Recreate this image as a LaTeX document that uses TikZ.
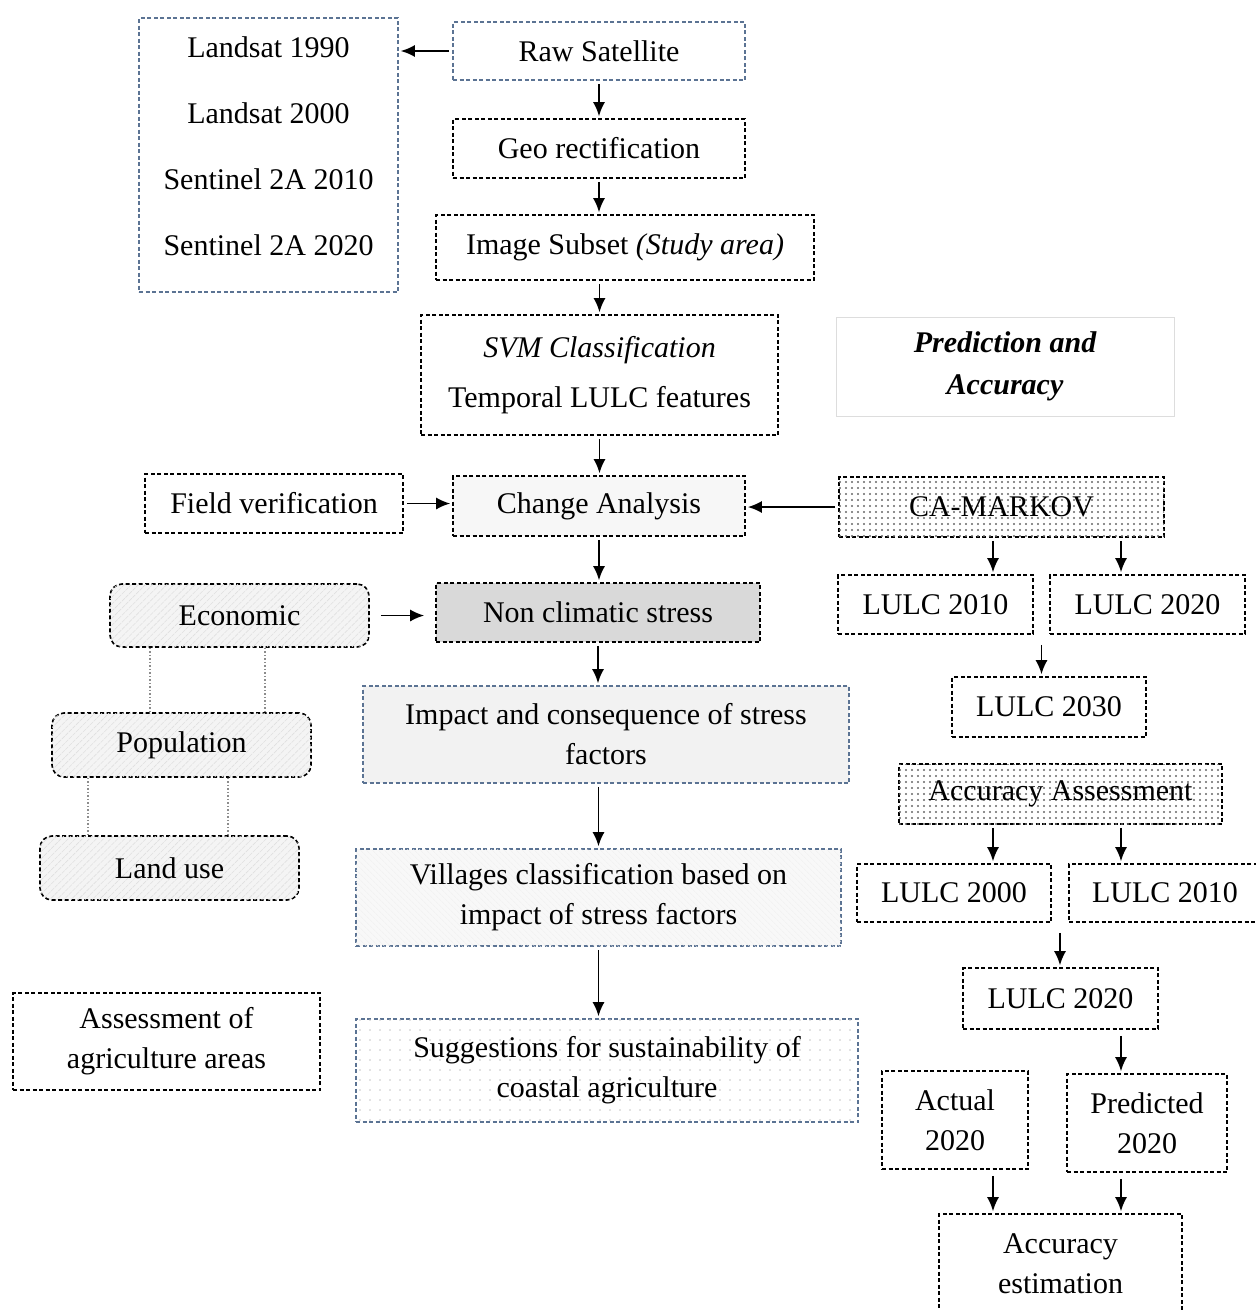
\documentclass[tikz,border=0pt]{standalone}
\usepackage{fontspec}
\setmainfont{Liberation Serif}
\usepackage{tikz}
\usetikzlibrary{calc,arrows.meta,patterns.meta}
\definecolor{lineBlue}{HTML}{5B7393}
\definecolor{stressGrey}{HTML}{D9D9D9}
\definecolor{impactGrey}{HTML}{F2F2F2}
\definecolor{changeGrey}{HTML}{F7F7F7}
\definecolor{hatchGrey}{HTML}{F4F4F4}
\definecolor{predLine}{HTML}{DDDDDD}
\tikzset{
  stepbox/.style={rectangle, draw=black, line width=1.6pt, dash pattern=on 4pt off 2.5pt, align=center, font=\fontsize{30}{40}\selectfont, inner sep=3pt},
  bluebox/.style={stepbox, draw=lineBlue},
  roundbox/.style={stepbox, rounded corners=12pt, fill=hatchGrey, postaction={pattern={Lines[angle=45,distance=5pt,line width=0.6pt]}, pattern color=black!12}},
  dotbox/.style={stepbox, postaction={pattern={Dots[distance=6pt,radius=1.1pt]}, pattern color=black!60}},
  predbox/.style={rectangle, draw=predLine, line width=1pt, align=center, font=\fontsize{30}{42}\selectfont\bfseries\itshape},
  arr/.style={-{Latex[length=14pt,width=12pt]}, line width=1.8pt, shorten <=3pt, shorten >=2pt},
  linkline/.style={draw=black!45, line width=1.5pt, dotted},
}
\begin{document}
\begin{tikzpicture}[x=1pt,y=-1pt]
  \useasboundingbox (0,0) rectangle (1256,1310);
  % --- main column ---
  \node[bluebox, minimum width=259, minimum height=274, font=\fontsize{30}{66}\selectfont, text depth=18pt] (sat) at (268.5,155) {Landsat 1990\\Landsat 2000\\Sentinel 2A 2010\\Sentinel 2A 2020};
  \node[bluebox, minimum width=292, minimum height=58] (raw) at (599,51) {Raw Satellite};
  \node[stepbox, minimum width=292, minimum height=59] (geo) at (599,148.5) {Geo rectification};
  \node[stepbox, minimum width=378, minimum height=65] (subset) at (625,247.5) {Image Subset \textit{(Study area)}};
  \node[stepbox, minimum width=357, minimum height=120, font=\fontsize{30}{50}\selectfont] (svm) at (599.5,375) {\textit{SVM Classification}\\Temporal LULC features};
  \node[stepbox, minimum width=258, minimum height=59] (field) at (274,503.5) {Field verification};
  \node[stepbox, fill=changeGrey, minimum width=292, minimum height=60] (change) at (599,506) {Change Analysis};
  \node[roundbox, minimum width=259, minimum height=63] (econ) at (239.5,615.5) {Economic};
  \node[stepbox, fill=stressGrey, minimum width=324, minimum height=59] (nonclim) at (598,612.5) {Non climatic stress};
  \node[roundbox, minimum width=259, minimum height=64] (pop) at (181.5,745) {Population};
  \node[roundbox, minimum width=259, minimum height=64] (landuse) at (169.5,868) {Land use};
  \node[bluebox, fill=impactGrey, minimum width=486, minimum height=97] (impact) at (606,734.5) {Impact and consequence of stress\\factors};
  \node[bluebox, fill=hatchGrey!60, postaction={pattern={Lines[angle=-45,distance=4pt,line width=0.5pt]}, pattern color=black!6}, minimum width=485, minimum height=97] (village) at (598.5,897.5) {Villages classification based on\\impact of stress factors};
  \node[stepbox, minimum width=307, minimum height=97] (assess) at (166.5,1041.5) {Assessment of\\agriculture areas};
  \node[bluebox, postaction={pattern={Dots[distance=10pt,radius=0.8pt]}, pattern color=black!22}, minimum width=502, minimum height=103] (suggest) at (607,1070.5) {Suggestions for sustainability of\\coastal agriculture};
  % --- prediction column ---
  \node[predbox, minimum width=338, minimum height=99] (pred) at (1005,366.5) {Prediction and\\Accuracy};
  \node[dotbox, minimum width=325, minimum height=60] (camarkov) at (1001.5,507) {CA-MARKOV};
  \node[stepbox, minimum width=195, minimum height=59] (lulcA) at (935.5,604.5) {LULC 2010};
  \node[stepbox, minimum width=195, minimum height=59] (lulcB) at (1147.5,604.5) {LULC 2020};
  \node[stepbox, minimum width=194, minimum height=60] (lulcC) at (1049,707) {LULC 2030};
  \node[dotbox, minimum width=323, minimum height=60] (acc) at (1060.5,794) {Accuracy Assessment};
  \node[stepbox, minimum width=194, minimum height=58] (lulcD) at (954,893) {LULC 2000};
  \node[stepbox, minimum width=192, minimum height=58] (lulcE) at (1165,893) {LULC 2010};
  \node[stepbox, minimum width=195, minimum height=61] (lulcF) at (1060.5,998.5) {LULC 2020};
  \node[stepbox, minimum width=146, minimum height=98] (actual) at (955,1120) {Actual\\2020};
  \node[stepbox, minimum width=160, minimum height=98] (predicted) at (1147,1123) {Predicted\\2020};
  \node[stepbox, minimum width=243, minimum height=100] (accest) at (1060.5,1264) {Accuracy\\estimation};

  \coordinate (joinA) at ($(lulcA.south east)!0.5!(lulcB.south west)+(0,10)$);
  \coordinate (joinB) at ($(lulcD.south east)!0.5!(lulcE.south west)+(0,10)$);

  % --- connectors ---
  \draw[arr] (raw.west) -- (raw.west -| sat.east);
  \draw[arr] (raw.south) -- (raw.south |- geo.north);
  \draw[arr] (geo.south) -- (geo.south |- subset.north);
  \draw[arr] (svm.north |- subset.south) -- (svm.north);
  \draw[arr] (svm.south) -- (svm.south |- change.north);
  \draw[arr] (field.east) -- (field.east -| change.west);
  \draw[arr] (camarkov.west) -- (camarkov.west -| change.east);
  \draw[arr] (change.south) -- (change.south |- nonclim.north);
  \draw[arr, shorten <=11pt, shorten >=11pt] (econ.east) -- (econ.east -| nonclim.west);
  \draw[arr] (nonclim.south) -- (nonclim.south |- impact.north);
  \draw[arr] (village.north |- impact.south) -- (village.north);
  \draw[arr] (village.south) -- (village.south |- suggest.north);
  \foreach \dx/\nd in {-8.5/lulcA, 119.5/lulcB} { \draw[arr] ([xshift=\dx]camarkov.south) -- ([xshift=\dx]camarkov.south |- \nd.north); }
  \draw[arr, shorten <=0pt] (joinA) -- (joinA |- lulcC.north);
  \foreach \dx/\nd in {-67.5/lulcD, 60.5/lulcE} { \draw[arr] ([xshift=\dx]acc.south) -- ([xshift=\dx]acc.south |- \nd.north); }
  \draw[arr, shorten <=0pt] (joinB) -- (joinB |- lulcF.north);
  \draw[arr, shorten <=6pt] ([xshift=-26]predicted.north |- lulcF.south) -- ([xshift=-26]predicted.north);
  \draw[arr, shorten <=6pt] ([xshift=38]actual.south) -- ([xshift=38]actual.south |- accest.north);
  \draw[arr, shorten <=6pt] ([xshift=-26]predicted.south) -- ([xshift=-26]predicted.south |- accest.north);
  % --- dotted links ---
  \foreach \dx in {-89.5, 25.5} { \draw[linkline] ([xshift=\dx]econ.south) -- ([xshift=\dx]econ.south |- pop.north); }
  \foreach \dx in {-93.5, 46.5} { \draw[linkline] ([xshift=\dx]pop.south) -- ([xshift=\dx]pop.south |- landuse.north); }
\end{tikzpicture}
\end{document}
